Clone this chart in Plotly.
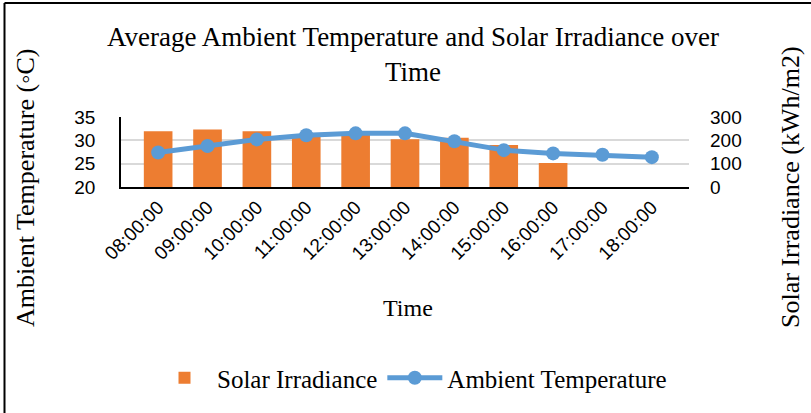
import plotly.graph_objects as go

times = ["08:00:00", "09:00:00", "10:00:00", "11:00:00", "12:00:00", "13:00:00",
         "14:00:00", "15:00:00", "16:00:00", "17:00:00", "18:00:00"]
solar_irradiance = [239, 246, 239, 222, 227, 205, 211, 180, 103, 0, 0]
ambient_temperature = [27.4, 28.8, 30.2, 31.1, 31.5, 31.5, 29.8, 27.9, 27.2, 26.9, 26.4]

W, H = 811, 413
ML, MR, MT, MB = 121, 122, 117, 226
PW, PH = W - ML - MR, H - MT - MB

def px(x):
    return (x - ML) / PW

def py(y):
    return (H - MB - y) / PH

serif = "Liberation Serif, Times New Roman, serif"
sans = "Liberation Sans, Arial, sans-serif"

fig = go.Figure()
fig.add_trace(go.Bar(
    x=times, y=solar_irradiance, name="Solar Irradiance",
    marker=dict(color="#ED7D31", line=dict(width=0)), width=0.58, yaxis="y",
))
fig.add_trace(go.Scatter(
    x=times, y=ambient_temperature, name="Ambient Temperature", yaxis="y2",
    mode="lines+markers",
    line=dict(color="#5B9BD5", width=5),
    marker=dict(color="#5B9BD5", size=14),
))

fig.update_layout(
    width=W, height=H,
    margin=dict(l=ML, r=MR, t=MT, b=MB, autoexpand=False),
    paper_bgcolor="white", plot_bgcolor="white",
    title=dict(
        text="Average Ambient Temperature and Solar Irradiance over<br>Time",
        font=dict(family=serif, size=27, color="black"),
        x=px(413), xanchor="center", xref="paper",
        y=1 - 46 / H, yanchor="top", yref="container",
    ),
    xaxis=dict(
        type="category", tickangle=-45,
        tickfont=dict(family=sans, size=19, color="black"),
        showline=True, linecolor="black", linewidth=1.5,
        showgrid=False, ticks="",
    ),
    yaxis=dict(
        side="right", range=[0, 300], tickvals=[0, 100, 200, 300],
        tickfont=dict(family=sans, size=19, color="black"),
        showgrid=True, gridcolor="#D9D9D9", gridwidth=1.5,
        zeroline=False, showline=False, ticks="",
        ticklabelstandoff=20,
    ),
    yaxis2=dict(
        side="left", overlaying="y", range=[20, 35], tickvals=[20, 25, 30, 35],
        tickfont=dict(family=sans, size=19, color="black"),
        showgrid=False, zeroline=False,
        showline=True, linecolor="black", linewidth=1.5, ticks="",
        ticklabelstandoff=20,
    ),
    bargap=0.42,
    showlegend=True,
    legend=dict(
        orientation="h", xref="container", yref="container",
        x=412 / W, xanchor="center", y=1 - 378 / H, yanchor="middle",
        font=dict(family=serif, size=25, color="black"),
        itemwidth=55, traceorder="normal", bgcolor="rgba(0,0,0,0)",
    ),
    annotations=[
        dict(text="Ambient Temperature (◦C)", textangle=-90, xref="paper", yref="paper",
             x=px(25), y=py(188), xanchor="center", yanchor="middle", showarrow=False,
             font=dict(family=serif, size=26, color="black")),
        dict(text="Solar Irradiance (kWh/m2)", textangle=-90, xref="paper", yref="paper",
             x=px(790), y=py(187), xanchor="center", yanchor="middle", showarrow=False,
             font=dict(family=serif, size=26, color="black")),
        dict(text="Time", xref="paper", yref="paper",
             x=px(408), y=py(308), xanchor="center", yanchor="middle", showarrow=False,
             font=dict(family=serif, size=24, color="black")),
    ],
    shapes=[
        dict(type="line", xref="paper", yref="paper", x0=px(4.5), x1=px(4.5),
             y0=py(H + 5), y1=py(3), line=dict(color="black", width=2)),
        dict(type="line", xref="paper", yref="paper", x0=px(4.5), x1=px(W + 5),
             y0=py(3), y1=py(3), line=dict(color="black", width=2)),
    ],
)

fig.write_html("out.html", config={"displayModeBar": False},
               post_script="document.body.style.margin='0px';")
